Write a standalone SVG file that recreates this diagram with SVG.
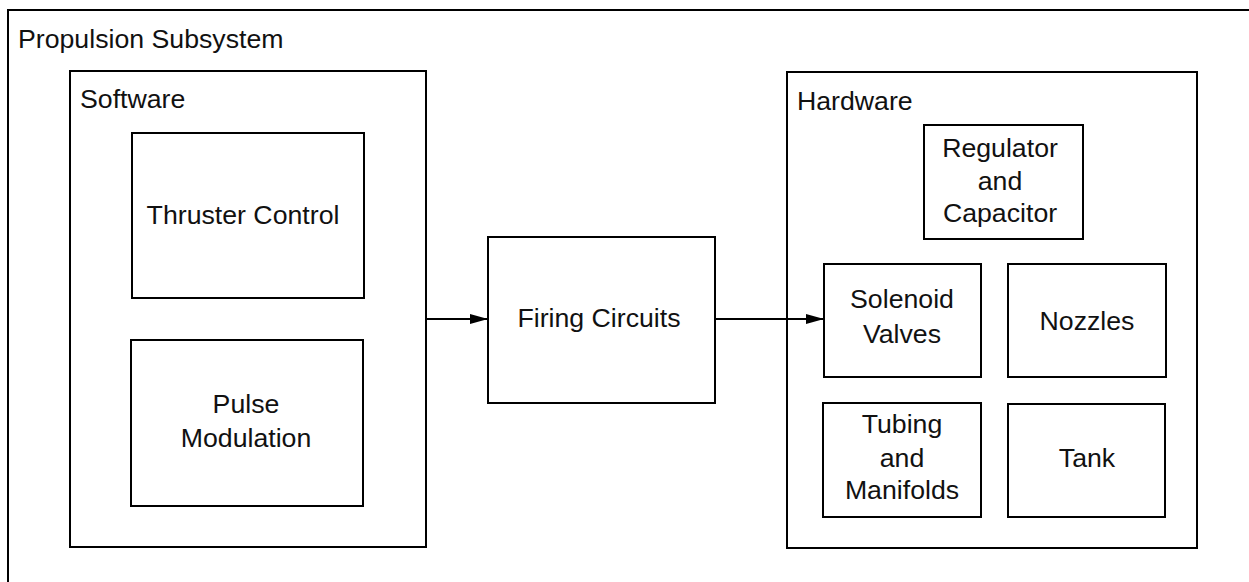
<svg xmlns="http://www.w3.org/2000/svg" width="1249" height="582" viewBox="0 0 1249 582">
<style>
.box{fill:none;stroke:#000;stroke-width:2}
.t{font-family:"Liberation Sans",Arial,sans-serif;font-size:26.7px;fill:#111}
.c{text-anchor:middle}
.conn{stroke:#000;stroke-width:1.8;fill:none}
</style>
<defs>
<marker id="ah" markerWidth="20" markerHeight="12" refX="18" refY="6" orient="auto" markerUnits="userSpaceOnUse">
<path d="M0,1 L18,6 L0,11 Z" fill="#000"/>
</marker>
</defs>
<rect x="0" y="0" width="1249" height="582" fill="#fff"/>
<g id="propulsion-subsystem">
<rect class="box" x="8" y="10" width="1260" height="600"/>
<text class="t" x="18" y="48">Propulsion Subsystem</text>
</g>
<g id="software">
<rect class="box" x="70" y="71" width="356" height="476"/>
<text class="t" x="80" y="108">Software</text>
</g>
<g id="thruster-control">
<rect class="box" x="132" y="133" width="232" height="165"/>
<text class="t c" x="243" y="224">Thruster Control</text>
</g>
<g id="pulse-modulation">
<rect class="box" x="131" y="340" width="232" height="166"/>
<text class="t c" x="246" y="413">Pulse</text>
<text class="t c" x="246" y="447">Modulation</text>
</g>
<g id="firing-circuits">
<rect class="box" x="488" y="237" width="227" height="166"/>
<text class="t c" x="599" y="327">Firing Circuits</text>
</g>
<g id="hardware">
<rect class="box" x="787" y="72" width="410" height="476"/>
<text class="t" x="797" y="110">Hardware</text>
</g>
<g id="regulator-and-capacitor">
<rect class="box" x="924" y="125" width="159" height="114"/>
<text class="t c" x="1000" y="157">Regulator</text>
<text class="t c" x="1000" y="190">and</text>
<text class="t c" x="1000" y="222">Capacitor</text>
</g>
<g id="solenoid-valves">
<rect class="box" x="824" y="264" width="157" height="113"/>
<text class="t c" x="902" y="308">Solenoid</text>
<text class="t c" x="902" y="343">Valves</text>
</g>
<g id="nozzles">
<rect class="box" x="1008" y="264" width="158" height="113"/>
<text class="t c" x="1087" y="330">Nozzles</text>
</g>
<g id="tubing-and-manifolds">
<rect class="box" x="823" y="403" width="158" height="114"/>
<text class="t c" x="902" y="433">Tubing</text>
<text class="t c" x="902" y="467">and</text>
<text class="t c" x="902" y="499">Manifolds</text>
</g>
<g id="tank">
<rect class="box" x="1008" y="404" width="157" height="113"/>
<text class="t c" x="1087" y="467">Tank</text>
</g>
<g id="connectors">
<line class="conn" x1="426" y1="319" x2="488" y2="319" marker-end="url(#ah)"/>
<line class="conn" x1="715" y1="319" x2="824" y2="319" marker-end="url(#ah)"/>
</g>
</svg>
